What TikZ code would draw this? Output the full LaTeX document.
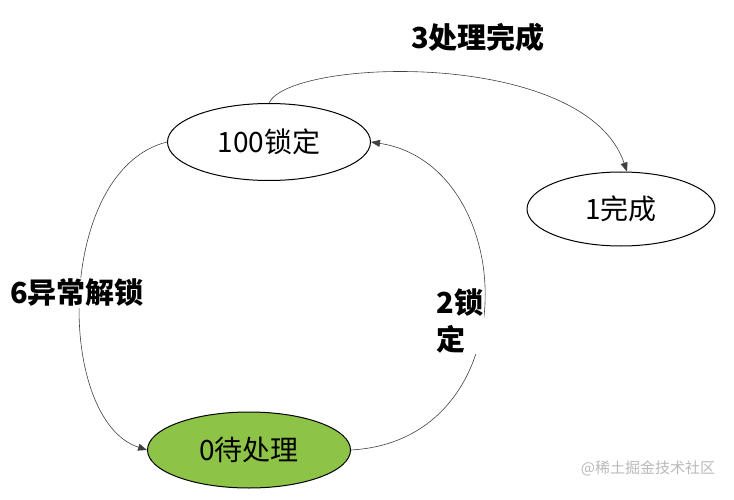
\documentclass[tikz,border=0pt]{standalone}
\usepackage{fontspec}
\setmainfont{Noto Sans CJK SC}
\usetikzlibrary{shapes.geometric,arrows.meta}
\definecolor{greenfill}{RGB}{141,196,72}
\definecolor{wmgray}{RGB}{185,185,185}
\tikzset{
  state/.style={ellipse,draw=black,line width=1pt,inner sep=0pt,minimum width=203pt,minimum height=77pt,font=\fontsize{28}{30}\selectfont},
  conn/.style={draw=black!75,line width=0.6pt,-{Triangle[length=9pt,width=7pt]}},
  lbl/.style={fill=white,inner sep=1pt,font=\fontsize{29}{37}\selectfont\bfseries},
}
\begin{document}
\begin{tikzpicture}[x=1pt,y=-1pt]
\useasboundingbox (0,0) rectangle (734,500);
\node[state] (lock) at (269,142) {100锁定};
\node[state,minimum width=188pt,minimum height=74pt] (done) at (621,209) {1完成};
\node[state,fill=greenfill,minimum height=76pt] (wait) at (249,450) {0待处理};

\draw[conn] (lock.north) .. controls (290,58) and (585,48) .. ([xshift=6pt]done.north);
\draw[conn] (lock.west) .. controls (55,170) and (55,420) .. (wait.west);
\draw[conn] (wait.east) .. controls (530,440) and (520,165) .. (lock.east);

\node[lbl] (l3) at (478,37) {3处理完成};
\node[lbl] (l6) at (77,293) {6异常解锁};
\node[lbl,align=left] (l2) at (460,321) {2锁\\定};

\node[font=\fontsize{15}{18}\selectfont,text=wmgray] (wm) at (648,468) {@稀土掘金技术社区};
\end{tikzpicture}
\end{document}
